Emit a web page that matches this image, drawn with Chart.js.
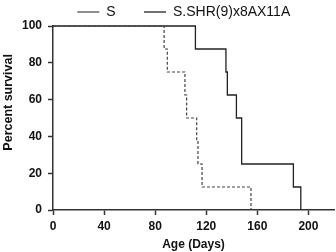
<!DOCTYPE html>
<html>
<head>
<meta charset="utf-8">
<script src="https://cdn.jsdelivr.net/npm/chart.js@4"></script>
<style>
  html, body { margin: 0; padding: 0; background: #fff; }
  #wrap { width: 336px; height: 252px; }
</style>
</head>
<body>
<div id="wrap"><canvas id="grafico" width="336" height="252"></canvas></div>
<script>
// Kaplan-Meier curves
const seriesNames = ["S", "S.SHR(9)x8AX11A"];

const diasS = [0, 87, 89.5, 103.3, 104.6, 112.5, 113.5, 116.7, 155];
const survS = [100, 87.5, 75, 62.5, 50, 37.5, 25, 12.5, 0];

const diasCongenic = [0, 111.5, 135.4, 136.5, 143.6, 147.7, 188.2, 194];
const survCongenic = [100, 87.5, 75, 62.5, 50, 25, 12.5, 0];

const xTicks = [0, 40, 80, 120, 160, 200];
const yTicks = [0, 20, 40, 60, 80, 100];

function pontos(dias, surv) {
  return dias.map((d, i) => ({ x: d, y: surv[i] }));
}

Chart.defaults.font.family = "'Liberation Sans', Arial, sans-serif";
Chart.defaults.color = "#111";

const eixoCor = "#333";

const ctx = document.getElementById("grafico").getContext("2d");
const grafico = new Chart(ctx, {
  type: "line",
  data: {
    datasets: [
      {
        // trailing spaces only widen the gap between the two legend entries
        label: seriesNames[0] + "      ",
        data: pontos(diasS, survS),
        borderColor: "#444",
        borderWidth: 1.2,
        borderDash: [3, 2],
        stepped: "before",
        pointRadius: 0,
        fill: false,
        clip: 4,
      },
      {
        // trailing spaces nudge the centred legend to the left
        label: seriesNames[1] + "     ",
        data: pontos(diasCongenic, survCongenic),
        borderColor: "#222",
        borderWidth: 1.3,
        stepped: "before",
        pointRadius: 0,
        fill: false,
        clip: 4,
      },
    ],
  },
  options: {
    responsive: false,
    animation: false,
    layout: { padding: { left: 0, right: 2, top: 0, bottom: 0 } },
    plugins: {
      tooltip: { enabled: false },
      legend: {
        position: "top",
        fullSize: false,
        maxHeight: 26,
        labels: {
          usePointStyle: true,
          pointStyle: "line",
          pointStyleWidth: 22,
          padding: 5,
          color: "#111",
          font: { size: 14 },
        },
      },
    },
    scales: {
      x: {
        type: "linear",
        min: 0,
        max: 220,
        afterFit: (s) => { s.height = 42; },
        afterBuildTicks: (s) => {
          s.ticks = xTicks.map((v) => ({ value: v }));
        },
        grid: {
          drawOnChartArea: false,
          drawTicks: true,
          tickLength: 5,
          tickWidth: 1.5,
          color: eixoCor,
        },
        border: { display: true, color: eixoCor, width: 1.5 },
        ticks: {
          padding: 4,
          color: "#111",
          font: { size: 12, weight: "bold" },
        },
        title: {
          display: true,
          text: "Age (Days)",
          color: "#111",
          font: { size: 12, weight: "bold" },
          padding: { top: 0, bottom: 0 },
        },
      },
      y: {
        min: 0,
        max: 100,
        afterFit: (s) => { s.width = 53; },
        afterBuildTicks: (s) => {
          s.ticks = yTicks.map((v) => ({ value: v }));
        },
        grid: {
          drawOnChartArea: false,
          drawTicks: true,
          tickLength: 5,
          tickWidth: 1.5,
          color: eixoCor,
        },
        border: { display: true, color: eixoCor, width: 1.5 },
        ticks: {
          padding: 6,
          color: "#111",
          font: { size: 12, weight: "bold" },
        },
        title: {
          display: true,
          // leading spaces lift the rotated title a little, as in the original
          text: "         Percent survival",
          color: "#111",
          font: { size: 12.5, weight: "bold" },
          padding: { top: 1, bottom: 0 },
        },
      },
    },
  },
});
</script>
</body>
</html>
